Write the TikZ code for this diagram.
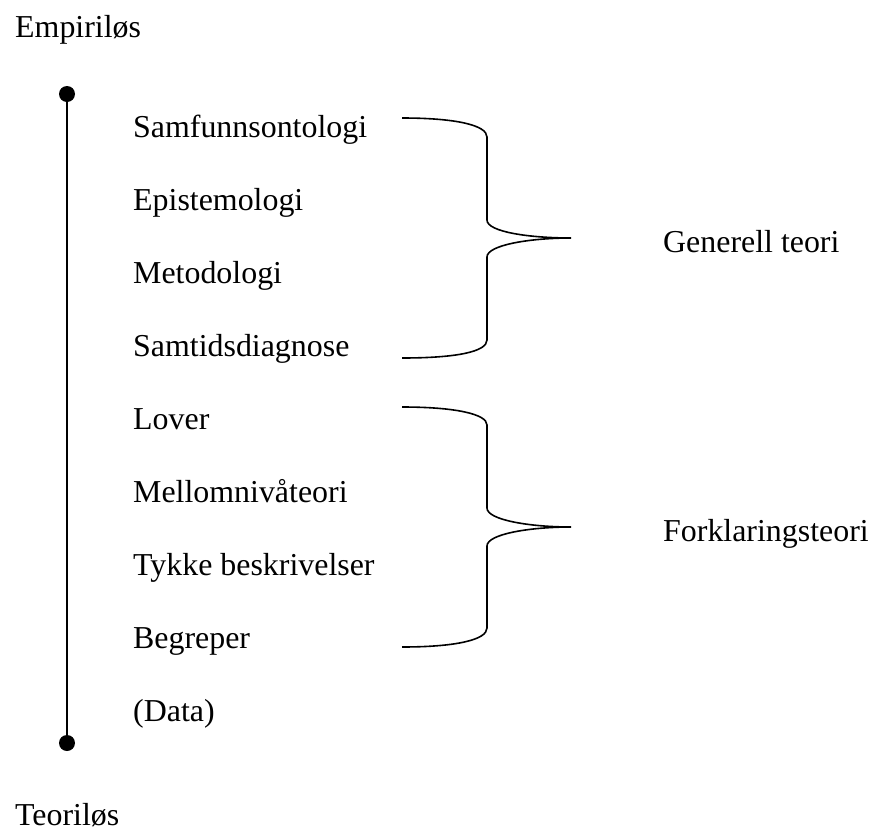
\documentclass[tikz,border=0pt]{standalone}
\usepackage{fontspec}
\setmainfont{Liberation Serif}
\begin{document}
\begin{tikzpicture}[x=1pt,y=-1pt,
  lbl/.style={anchor=base west,inner sep=0pt,font=\fontsize{31.9}{36}\selectfont},
  brace/.style={line width=1.6pt},
  dotnode/.style={circle,fill=black,inner sep=0pt,minimum size=16pt}]
\useasboundingbox (0,0) rectangle (871,833);
\node[lbl] (emp) at (15,37) {Empiriløs};
\node[lbl] (teo) at (15,825) {Teoriløs};
\node[dotnode] (d1) at (67,94) {};
\node[dotnode] (d2) at (67,743) {};
\draw[line width=1.6pt] (d1.center) -- (d2.center);
\foreach \t [count=\i from 0] in {Samfunnsontologi,Epistemologi,Metodologi,Samtidsdiagnose,Lover,Mellomnivåteori,Tykke beskrivelser,Begreper,(Data)}
  \node[lbl] (t\i) at (133,137+73*\i) {\t};
\node[lbl] (gen) at (663,252) {Generell teori};
\node[lbl] (fork) at (663,541) {Forklaringsteori};
\coordinate (b1a) at (402,118);
\coordinate (b1t) at (571,238);
\coordinate (b1b) at (402,358);
\draw[brace] (b1a) .. controls (455,118) and (487,125) .. (487,137) -- (487,220)
  .. controls (487,232) and (530,238) .. (b1t)
  .. controls (530,238) and (487,245) .. (487,257) -- (487,340)
  .. controls (487,352) and (455,358) .. (b1b);
\coordinate (b2a) at (402,407);
\coordinate (b2t) at (571,527);
\coordinate (b2b) at (402,647);
\draw[brace] (b2a) .. controls (455,407) and (487,414) .. (487,425) -- (487,508)
  .. controls (487,520) and (530,527) .. (b2t)
  .. controls (530,527) and (487,534) .. (487,546) -- (487,628)
  .. controls (487,640) and (455,647) .. (b2b);
\end{tikzpicture}
\end{document}
